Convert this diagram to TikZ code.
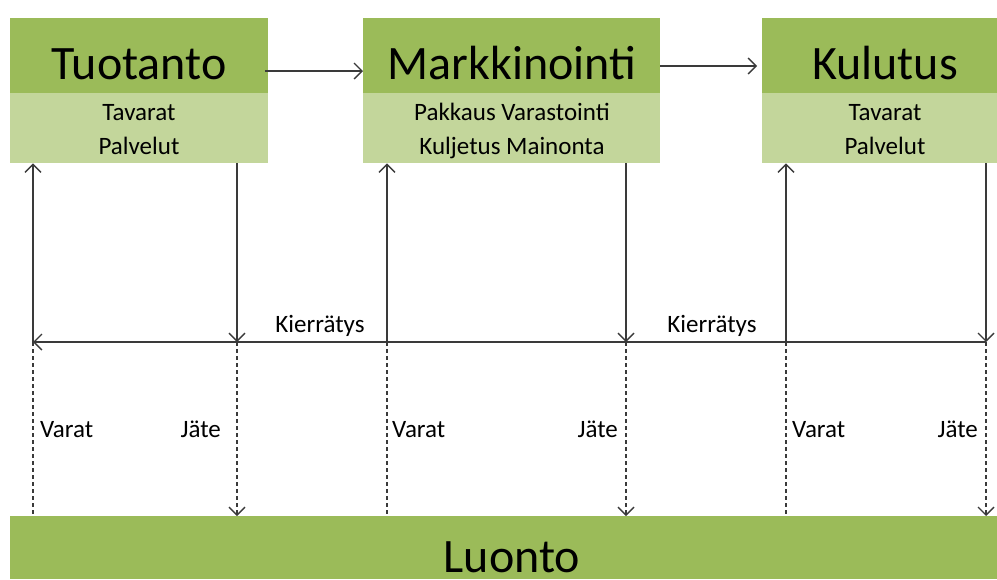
\documentclass[tikz,border=0pt]{standalone}
\usepackage{fontspec}
\setmainfont{Carlito}
\usetikzlibrary{arrows.meta}
\definecolor{dgreen}{HTML}{9BBB59}
\definecolor{lgreen}{HTML}{C3D69B}
\definecolor{linec}{HTML}{3A3A3A}
\tikzset{
  topbox/.style={fill=dgreen, draw=none, anchor=north west, inner sep=0pt},
  subbox/.style={fill=lgreen, draw=none, anchor=north west, inner sep=0pt},
  bigtxt/.style={anchor=base, inner sep=0pt, font=\fontsize{48}{58}\selectfont},
  smalltxt/.style={inner sep=0pt, font=\fontsize{25}{30}\selectfont},
  conn/.style={draw=linec, line width=1.4pt},
  dashconn/.style={conn, line width=1.7pt, dash pattern=on 4pt off 3pt},
  tip/.style={-{Straight Barb[length=8pt,width=16pt,line width=1.4pt]}}
}
\begin{document}
\begin{tikzpicture}[x=1pt,y=-1pt]
\useasboundingbox (0,0) rectangle (997,579);
\fill[white] (0,0) rectangle (997,579);
% boxes
\node[topbox, minimum width=258pt, minimum height=75pt] (tuo) at (10,18) {};
\node[subbox, minimum width=258pt, minimum height=70pt] (tuoL) at (10,93) {};
\node[topbox, minimum width=297pt, minimum height=75pt] (mar) at (363,18) {};
\node[subbox, minimum width=297pt, minimum height=70pt] (marL) at (363,93) {};
\node[topbox, minimum width=235pt, minimum height=75pt] (kul) at (762,18) {};
\node[subbox, minimum width=235pt, minimum height=70pt] (kulL) at (762,93) {};
\node[topbox, minimum width=987pt, minimum height=63pt] (luo) at (10,516) {};
% titles
\node[bigtxt] (tuoT) at (139,79) {Tuotanto};
\node[bigtxt] (marT) at (512,79) {Markkinointi};
\node[bigtxt] (kulT) at (885,79) {Kulutus};
\node[bigtxt] (luoT) at (512,572) {Luonto};
% sub texts
\node[smalltxt, anchor=base] (t1a) at (139,120) {Tavarat};
\node[smalltxt, anchor=base] (t1b) at (139,154) {Palvelut};
\node[smalltxt, anchor=base] (t2a) at (512,120) {Pakkaus Varastointi};
\node[smalltxt, anchor=base] (t2b) at (512,154) {Kuljetus Mainonta};
\node[smalltxt, anchor=base] (t3a) at (885,120) {Tavarat};
\node[smalltxt, anchor=base] (t3b) at (885,154) {Palvelut};
% top arrows
\coordinate (a1s) at (265,71);
\coordinate (a2s) at (660,66);
\coordinate (a2e) at (757,66);
\draw[conn, tip] (a1s) -- (a1s -| mar.west);
\draw[conn, tip] (a2s) -- (a2e);
% recycling level coordinates
\coordinate (v1) at (33,342);
\coordinate (j1) at (237,342);
\coordinate (v2) at (387,342);
\coordinate (j2) at (626,342);
\coordinate (v3) at (786,342);
\coordinate (j3) at (986,342);
% solid verticals
\draw[conn, tip] (v1) -- (v1 |- tuoL.south);
\draw[conn, tip] (j1 |- tuoL.south) -- (j1);
\draw[conn, tip] (v2) -- (v2 |- marL.south);
\draw[conn, tip] (j2 |- marL.south) -- (j2);
\draw[conn, tip] (v3) -- (v3 |- kulL.south);
\draw[conn, tip] (j3 |- kulL.south) -- (j3);
% recycling line
\draw[conn, tip] (j3) -- (v1);
\node[smalltxt, anchor=base] (kr1) at (320,332) {Kierrätys};
\node[smalltxt, anchor=base] (kr2) at (712,332) {Kierrätys};
% dashed verticals
\draw[dashconn] (v1) -- (v1 |- luo.north);
\draw[dashconn, tip] (j1) -- (j1 |- luo.north);
\draw[dashconn] (v2) -- (v2 |- luo.north);
\draw[dashconn, tip] (j2) -- (j2 |- luo.north);
\draw[dashconn] (v3) -- (v3 |- luo.north);
\draw[dashconn, tip] (j3) -- (j3 |- luo.north);
% labels
\node[smalltxt, anchor=base west] (va1) at (40,437) {Varat};
\node[smalltxt, anchor=base east] (ja1) at (221,437) {Jäte};
\node[smalltxt, anchor=base west] (va2) at (392,437) {Varat};
\node[smalltxt, anchor=base east] (ja2) at (618,437) {Jäte};
\node[smalltxt, anchor=base west] (va3) at (792,437) {Varat};
\node[smalltxt, anchor=base east] (ja3) at (978,437) {Jäte};
\end{tikzpicture}
\end{document}
